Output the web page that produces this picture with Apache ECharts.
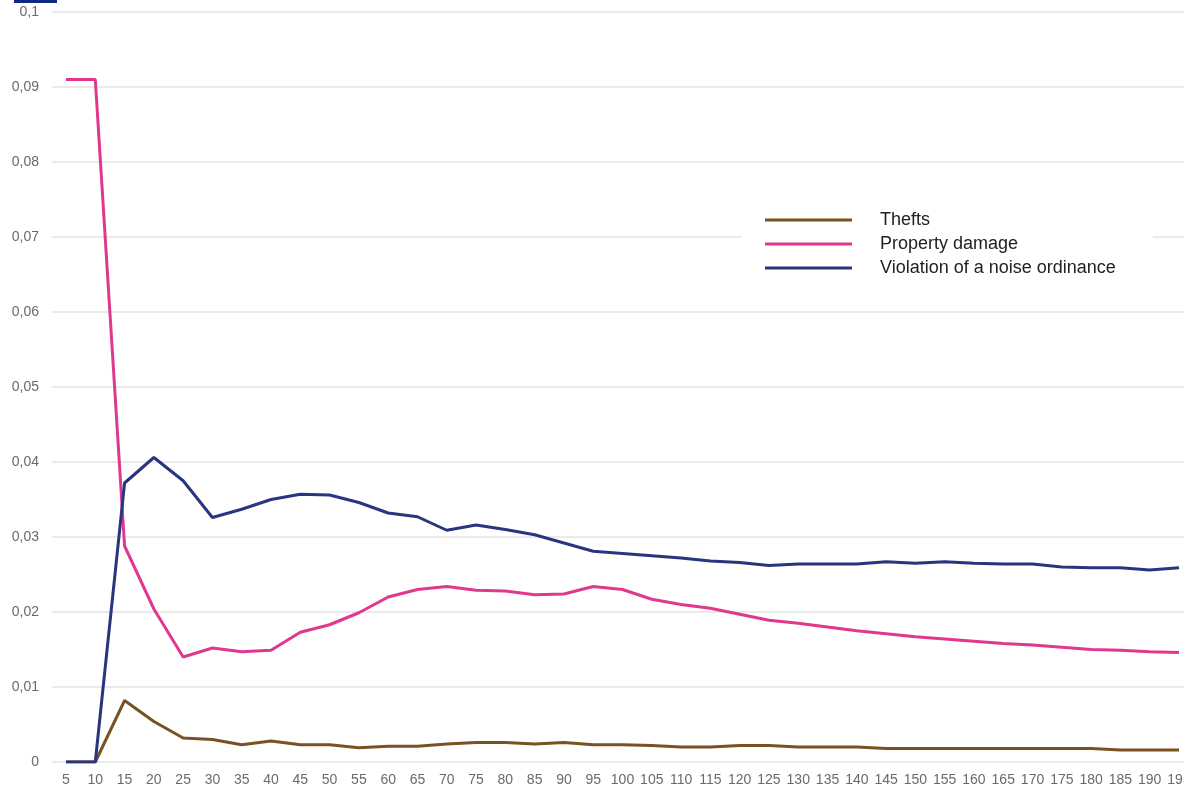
<!DOCTYPE html>
<html>
<head>
<meta charset="utf-8">
<script src="https://cdn.jsdelivr.net/npm/echarts@6/dist/echarts.min.js"></script>
<style>
html,body{margin:0;padding:0;background:#fff;}
#chart{width:1184px;height:791px;}
</style>
</head>
<body>
<div id="chart"></div>
<script>
var categories = ['5','10','15','20','25','30','35','40','45','50','55','60','65','70','75','80','85','90','95','100','105','110','115','120','125','130','135','140','145','150','155','160','165','170','175','180','185','190','195'];
var thefts = [0,0,0.0082,0.0054,0.0032,0.003,0.0023,0.0028,0.0023,0.0023,0.0019,0.0021,0.0021,0.0024,0.0026,0.0026,0.0024,0.0026,0.0023,0.0023,0.0022,0.002,0.002,0.0022,0.0022,0.002,0.002,0.002,0.0018,0.0018,0.0018,0.0018,0.0018,0.0018,0.0018,0.0018,0.0016,0.0016,0.0016];
var propertyDamage = [0.091,0.091,0.0288,0.0204,0.014,0.0152,0.0147,0.0149,0.0173,0.0183,0.0199,0.022,0.023,0.0234,0.0229,0.0228,0.0223,0.0224,0.0234,0.023,0.0217,0.021,0.0205,0.0197,0.0189,0.0185,0.018,0.0175,0.0171,0.0167,0.0164,0.0161,0.0158,0.0156,0.0153,0.015,0.0149,0.0147,0.0146];
var noiseViolation = [0,0,0.0372,0.0406,0.0375,0.0326,0.0337,0.035,0.0357,0.0356,0.0346,0.0332,0.0327,0.0309,0.0316,0.031,0.0303,0.0292,0.0281,0.0278,0.0275,0.0272,0.0268,0.0266,0.0262,0.0264,0.0264,0.0264,0.0267,0.0265,0.0267,0.0265,0.0264,0.0264,0.026,0.0259,0.0259,0.0256,0.0259];
var seriesNames = ['Thefts','Property damage','Violation of a noise ordinance'];
var seriesColors = ['#7a5222','#e0378f','#28357f'];

var chart = echarts.init(document.getElementById('chart'));
var fontFam = "'Liberation Sans',Arial,sans-serif";
function yfmt(v){ return parseFloat(v.toFixed(3)).toString().replace('.', ','); }

chart.setOption({
  animation:false,
  backgroundColor:'#fff',
  grid:[
    {left:52, right:0, top:12, bottom:29, outerBoundsMode:'none', containLabel:false},
    {left:66, right:5, top:12, bottom:29, outerBoundsMode:'none', containLabel:false}
  ],
  xAxis:[
    {gridIndex:0, type:'category', data:categories, show:false},
    {gridIndex:1, type:'category', data:categories, boundaryGap:false,
     axisLine:{show:false}, axisTick:{show:false},
     axisLabel:{interval:0, hideOverlap:false, color:'#6a6a6a', fontSize:14, fontFamily:fontFam, margin:11}}
  ],
  yAxis:[
    {gridIndex:0, type:'value', min:0, max:0.1, interval:0.01,
     axisLine:{show:false}, axisTick:{show:false},
     axisLabel:{color:'#6a6a6a', fontSize:14, fontFamily:fontFam, margin:13, formatter:yfmt},
     splitLine:{lineStyle:{color:'#e3e3e3', width:1.5}}},
    {gridIndex:1, type:'value', min:0, max:0.1, interval:0.01, show:false, splitLine:{show:false}}
  ],
  legend:{
    orient:'vertical', left:742, top:204,
    data:seriesNames,
    icon:'rect', itemWidth:87, itemHeight:3, itemGap:4,
    backgroundColor:'#fff',
    padding:[6,37,6,23],
    textStyle:{color:'#222', fontSize:18, fontFamily:fontFam, padding:[0,0,0,23], lineHeight:20}
  },
  graphic:[
    {type:'rect', left:14, top:0, shape:{width:43, height:3}, style:{fill:'#0d2a80'}}
  ],
  series:[
    {name:seriesNames[0], type:'line', xAxisIndex:1, yAxisIndex:1, data:thefts, symbol:'none', lineStyle:{width:3, color:seriesColors[0]}, itemStyle:{color:seriesColors[0]}},
    {name:seriesNames[1], type:'line', xAxisIndex:1, yAxisIndex:1, data:propertyDamage, symbol:'none', lineStyle:{width:3, color:seriesColors[1]}, itemStyle:{color:seriesColors[1]}},
    {name:seriesNames[2], type:'line', xAxisIndex:1, yAxisIndex:1, data:noiseViolation, symbol:'none', lineStyle:{width:3, color:seriesColors[2]}, itemStyle:{color:seriesColors[2]}}
  ]
});
</script>
</body>
</html>
